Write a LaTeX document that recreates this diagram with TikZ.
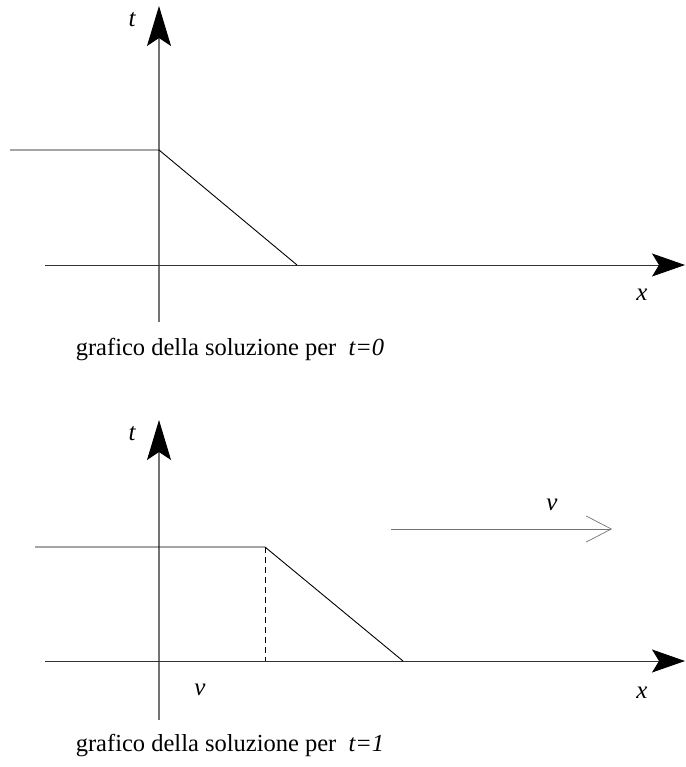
\documentclass[tikz,border=0pt]{standalone}
\usepackage{fontspec}
\setmainfont{Liberation Serif}
\usetikzlibrary{arrows.meta}
\begin{document}
\begin{tikzpicture}[x=1pt,y=-1pt,
  axisv/.style={draw=black!55,line width=1.1pt,-{Stealth[length=40pt,width=24pt,inset=8pt,color=black]}},
  axish/.style={draw=black!80,line width=0.9pt,-{Stealth[length=33pt,width=23pt,inset=7pt,color=black]}},
  graph/.style={draw=black,line width=0.9pt},
  lbl/.style={font=\fontsize{25}{30}\selectfont\itshape,inner sep=0pt},
  captext/.style={font=\fontsize{24.5}{29}\selectfont,inner sep=0pt}]
\useasboundingbox (0,0) rectangle (685,767);
% top graph
\coordinate (v1s) at (159,322); \coordinate (v1e) at (159,6);
\coordinate (h1s) at (45,265); \coordinate (h1e) at (685,265);
\coordinate (f1a) at (10,150); \coordinate (f1b) at (159,150); \coordinate (f1c) at (297,265);
\draw[axisv] (v1s) -- (v1e);
\draw[axish] (h1s) -- (h1e);
\draw[graph] (f1a) -- (f1b) -- (f1c);
\node[lbl] (t1) at (132,20) {t};
\node[lbl] (x1) at (642,295) {x};
\node[captext] (c1) at (230,350) {grafico della soluzione per~ \textit{t=0}};
% bottom graph
\coordinate (v2s) at (159,720); \coordinate (v2e) at (159,420);
\coordinate (h2s) at (45,661); \coordinate (h2e) at (685,661);
\coordinate (f2a) at (35,547); \coordinate (f2b) at (265,547); \coordinate (f2c) at (403,661);
\coordinate (d2) at (265,661);
\draw[axisv] (v2s) -- (v2e);
\draw[axish] (h2s) -- (h2e);
\draw[graph] (f2a) -- (f2b) -- (f2c);
\draw[graph,dashed,dash pattern=on 6pt off 4pt] (f2b) -- (d2);
\node[lbl] (t2) at (132,434) {t};
\node[lbl] (x2) at (642,693) {x};
\node[lbl] (v0) at (200,690) {v};
\coordinate (as) at (391,529); \coordinate (ae) at (612,529);
\draw[draw=black!55,line width=1pt,-{Straight Barb[length=25pt,width=26pt,line width=0.7pt]}] (as) -- (ae);
\node[lbl] (va) at (552,505) {v};
\node[captext] (c2) at (230,746) {grafico della soluzione per~ \textit{t=1}};
\end{tikzpicture}
\end{document}
